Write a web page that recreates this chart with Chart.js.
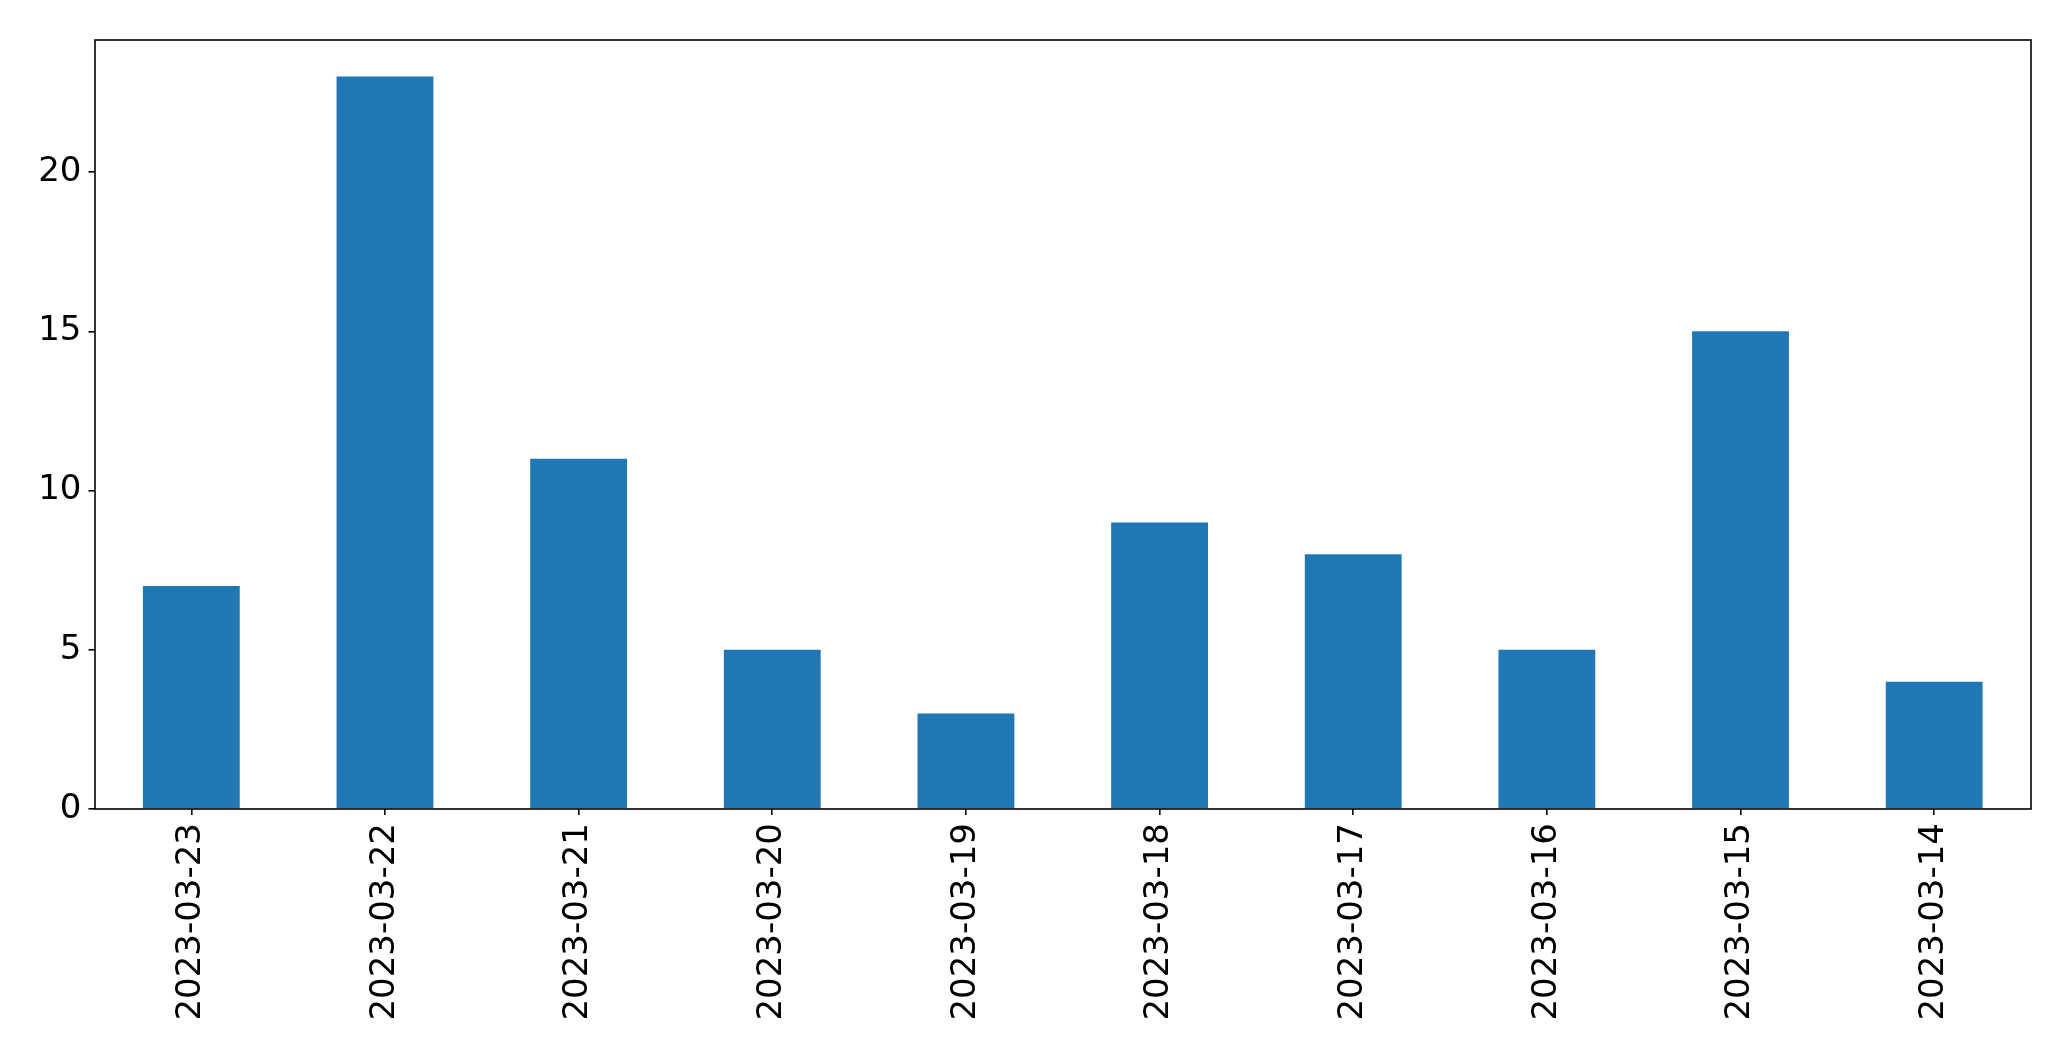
<!DOCTYPE html>
<html>
<head>
<meta charset="utf-8">
<script src="https://cdn.jsdelivr.net/npm/chart.js@4.4.0/dist/chart.umd.min.js"></script>
<style>
  body { margin: 0; background: #fff; }
  canvas { display: block; }
</style>
</head>
<body>
<canvas id="barChart" width="2071" height="1061"></canvas>
<script>
const dates = ["2023-03-23", "2023-03-22", "2023-03-21", "2023-03-20", "2023-03-19",
               "2023-03-18", "2023-03-17", "2023-03-16", "2023-03-15", "2023-03-14"];
const counts = [7, 23, 11, 5, 3, 9, 8, 5, 15, 4];
const yTicks = [0, 5, 10, 15, 20];

// matplotlib-like frame round the plot area
const frame = {
  id: "frame",
  afterDraw(chart) {
    const { ctx, chartArea: a } = chart;
    const l = Math.round(a.left), t = Math.round(a.top);
    const r = Math.round(a.right), b = Math.round(a.bottom);
    ctx.save();
    ctx.strokeStyle = "#000";
    ctx.lineWidth = 1.6;
    ctx.strokeRect(l, t, r - l, b - t);
    ctx.restore();
  },
};

const ctx = document.getElementById("barChart").getContext("2d");
new Chart(ctx, {
  type: "bar",
  data: {
    labels: dates,
    datasets: [
      {
        data: counts,
        backgroundColor: "#1f77b4",
        categoryPercentage: 1.0,
        barPercentage: 0.5,
      },
    ],
  },
  options: {
    responsive: false,
    animation: false,
    layout: { padding: { top: 40, right: 40, left: 0, bottom: 0 } },
    plugins: { legend: { display: false }, tooltip: { enabled: false } },
    scales: {
      x: {
        grid: { drawOnChartArea: false, offset: false, tickLength: 6, color: "#000", lineWidth: 1.6 },
        border: { display: false },
        ticks: {
          color: "#000",
          font: { family: "DejaVu Sans", size: 34 },
          minRotation: 90,
          maxRotation: 90,
          padding: 8,
          autoSkip: false,
        },
        afterFit(scale) { scale.height = 252; },
      },
      y: {
        min: 0,
        max: 24.15,
        grid: { drawOnChartArea: false, tickLength: 6, color: "#000", lineWidth: 1.6 },
        border: { display: false },
        ticks: {
          color: "#000",
          font: { family: "DejaVu Sans", size: 34 },
          padding: 7,
        },
        afterBuildTicks(scale) { scale.ticks = yTicks.map(v => ({ value: v })); },
        afterFit(scale) { scale.width = 94.5; },
      },
    },
  },
  plugins: [frame],
});
</script>
</body>
</html>
